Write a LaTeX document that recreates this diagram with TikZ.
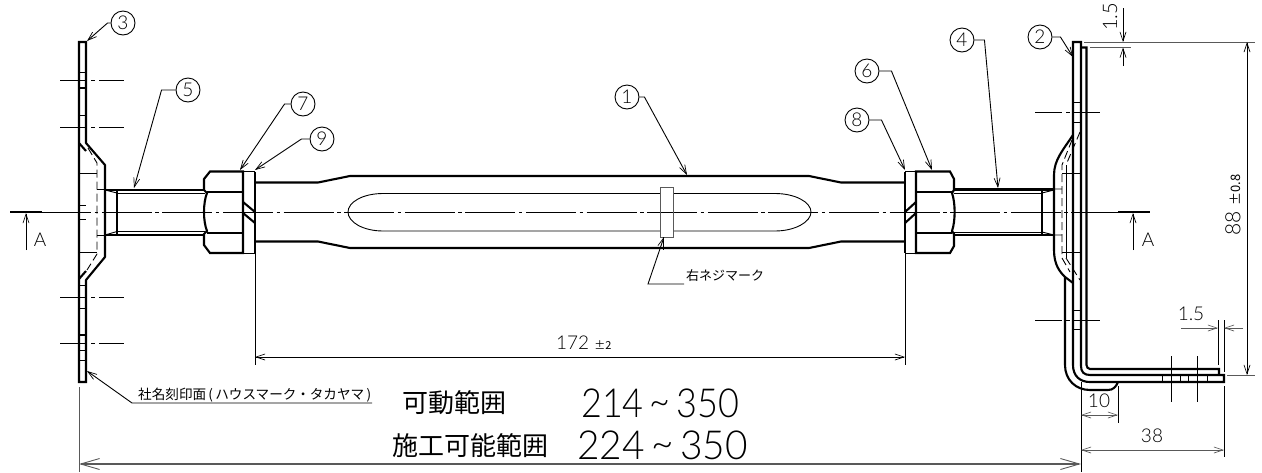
\documentclass[tikz,border=0pt]{standalone}
\usepackage{fontspec}
\setmainfont{Noto Sans CJK JP}
\newfontfamily\numfont{Lato Light}
\usetikzlibrary{arrows.meta}
\tikzset{
  >={Straight Barb[length=9pt,width=6pt,line width=.7pt]},
  thickline/.style={line width=2.1pt,line join=miter},
  thinline/.style={line width=.9pt},
  dashline/.style={line width=.9pt,dash pattern=on 8pt off 4pt},
  centerline/.style={line width=.9pt,dash pattern=on 50pt off 3.5pt on 3.5pt off 3.6pt,dash phase=.8pt},
  shortcenter/.style={line width=.9pt,dash pattern=on 27pt off 4pt on 4pt off 4pt},
  greyline/.style={line width=.9pt,color=black!65},
  balloon/.style={draw,circle,line width=.9pt,minimum size=24pt,inner sep=0pt,font=\numfont\fontsize{19}{19}\selectfont},
  label/.style={inner sep=0pt,font=\fontsize{13.6}{14}\selectfont},
  dimtext/.style={inner sep=0pt,font=\numfont\fontsize{19}{19}\selectfont},
  bigtext/.style={inner sep=0pt,font=\fontsize{26}{26}\selectfont},
  bignum/.style={inner sep=0pt,transform shape,font=\numfont\fontsize{40}{40}\selectfont}
}
\begin{document}
\begin{tikzpicture}[x=1pt,y=-1pt]
  \useasboundingbox (0,0) rectangle (1262,472);
  % center lines
  \draw[centerline] (42,212) -- (1118,212);
  \draw[shortcenter] (60,80) -- (124,80);
  \draw[shortcenter] (60,127) -- (124,127);
  \draw[shortcenter] (60,297) -- (124,297);
  \draw[shortcenter] (60,343) -- (124,343);
  \draw[shortcenter] (1035,112) -- (1100,112);
  \draw[shortcenter] (1035,320) -- (1100,320);
  \draw[thinline] (1171,356) -- (1171,402);
  \draw[thinline] (1197,356) -- (1197,402);
  % section marks
  \draw[thickline] (10,212) -- (42,212);
  \draw[thickline] (1118,212) -- (1150,212);
  \draw[thinline,->] (26,250) -- (26,213);
  \draw[thinline,->] (1133,250) -- (1133,213);
  \node[dimtext] (markl) at (40,240) {A};
  \node[dimtext] (markr) at (1148,240) {A};
  % left plate
  \draw[thickline] (79,42) -- (86,42) -- (86,143) -- (105,165) -- (105,257) -- (86,280) -- (86,382) -- (79,382) -- cycle;
  \draw[thickline] (79,88) -- (86,88);
  \draw[thickline] (79,335) -- (86,335);
  \draw[thinline] (79,72) -- (86,72) (79,115) -- (86,115) (79,173) -- (86,173) (79,205) -- (86,205) (79,219) -- (86,219)
    (79,252) -- (86,252) (79,285) -- (86,285) (79,308) -- (86,308) (79,350) -- (86,350) (79,360) -- (86,360);
  \draw[thickline] (79,143) -- (86,151) (79,279) -- (86,271);
  \draw[dashline] (88,148) -- (97,163) -- (97,254) -- (87,270);
  \draw[thinline] (86,173) -- (97,173) (86,252) -- (97,252) (97,189) -- (105,189) (97,235) -- (105,235);
  % left bolt
  \draw[thickline] (105,190) -- (205,190);
  \draw[thickline] (105,235) -- (205,235);
  \draw[thinline] (117,193) -- (205,193) (117,231.5) -- (205,231.5);
  \draw[thinline] (105,190) -- (117,193) (105,235) -- (117,231.5);
  \draw[thickline] (117,190) -- (117,235);
  % left nut and washer
  \draw[thickline] (204,179) -- (210,171.5) -- (243,171.5) -- (243,253) -- (210,253) -- (204,245) -- (204,234) -- (207,231)
    .. controls (203,221) and (203,203) .. (207,193) -- (204,190) -- cycle;
  \draw[thickline] (207,192) -- (243,192);
  \draw[thickline] (207,233) -- (243,233);
  \draw[thickline] (243,202) -- (255,212) (243,213) -- (255,223);
  \draw[thickline] (255,171.5) -- (255,253);
  \draw[thinline] (243,171.5) -- (255,171.5) (243,253) -- (255,253);
  % rod
  \draw[thickline] (255,182.5) -- (318,182.5) -- (350,176) -- (809,176) -- (841,182.5) -- (905,182.5);
  \draw[thickline] (255,241.5) -- (318,241.5) -- (350,248) -- (809,248) -- (841,241.5) -- (905,241.5);
  \draw[thinline] (383,193.5) -- (660,193.5) (673,193.5) -- (775,193.5) .. controls (795,193.5) and (811,202) .. (811,212)
    .. controls (811,222) and (795,231) .. (775,231) -- (673,231) (660,231) -- (383,231)
    .. controls (363,231) and (348,222) .. (348,212) .. controls (348,202) and (363,193.5) .. (383,193.5);
  \draw[greyline] (660,187) rectangle (673,237);
  % right nut and washer
  \draw[thickline] (954,179) -- (950,171.5) -- (916,171.5) -- (916,253) -- (950,253) -- (954,246) -- (954,234) -- (952,231)
    .. controls (955.5,221) and (955.5,203) .. (952,193) -- (954,190) -- cycle;
  \draw[thickline] (952,192) -- (916,192);
  \draw[thickline] (952,233) -- (916,233);
  \draw[thickline] (905,212) -- (916,202) (905,223) -- (916,213);
  \draw[thickline] (905,171.5) -- (905,253);
  \draw[thinline] (905,171.5) -- (916,171.5) (905,253) -- (916,253);
  % right bolt
  \draw[thickline] (954,189.5) -- (1054,189.5);
  \draw[thickline] (954,235) -- (1054,235);
  \draw[thinline] (954,193) -- (1042,193) (954,232) -- (1042,232);
  \draw[thinline] (1042,193) -- (1054,190) (1042,232) -- (1054,235) (1054,189) -- (1062,189) (1054,235) -- (1062,235);
  \draw[thickline] (1042,189.5) -- (1042,235);
  % right bracket
  \draw[thickline] (1073,135) .. controls (1063,150) and (1054,160) .. (1054,175) -- (1054,250)
    .. controls (1054,265) and (1060,272) .. (1065,277) -- (1073,283);
  \draw[thickline] (1073,365) -- (1073,42) -- (1081,42) -- (1081,366) .. controls (1081,372) and (1084,375) .. (1090,375) -- (1224,375) -- (1224,382) -- (1090,382)
    .. controls (1080,382) and (1073,376) .. (1073,365);
  \draw[thickline] (1081,47.5) -- (1086.5,47.5) -- (1086.5,365) .. controls (1086.5,367) and (1088,369) .. (1090,369) -- (1219,369) -- (1219,375);
  \draw[thickline] (1065,277) -- (1065,365) .. controls (1065,380) and (1076,390) .. (1090,390) -- (1108,390) .. controls (1113,390) and (1116,387) .. (1118,382);
  \draw[thinline] (1073,102) -- (1081,102) (1073,122) -- (1081,122) (1073,252) -- (1081,252) (1073,310) -- (1081,310) (1073,329) -- (1081,329);
  \draw[thinline] (1162,375) -- (1162,382) (1180,375) -- (1180,382) (1188,375) -- (1188,382) (1207,375) -- (1207,382);
  \draw[dashline] (1072,140) -- (1062,165) -- (1062,258) -- (1070,272);
  \draw[dashline] (1080,132) -- (1066,165) (1066,258) -- (1080,280);
  \draw[thinline] (1062,173) -- (1081,173) (1062,252) -- (1073,252) (1066,165) -- (1066,258);
  % dimensions
  \draw[thinline] (255,253) -- (255,365);
  \draw[thinline] (905,253) -- (905,365);
  \draw[thinline,<->] (255,357) -- (905,357);
  \node[dimtext,anchor=west] (len) at (556,343) {172 {\rmfamily\fontsize{11}{11}\selectfont ±2}};
  \draw[greyline] (79,387) -- (79,472);
  \draw[thinline] (1081,382) -- (1081,472);
  \draw[greyline,line width=1.6pt,{Straight Barb[length=19pt,width=11pt,line width=.9pt]}-{Straight Barb[length=19pt,width=11pt,line width=.9pt]}] (79,464) -- (1081,464);
  \draw[thinline] (1118,386) -- (1118,423);
  \draw[greyline,<->] (1081,415) -- (1118,415);
  \node[dimtext] (tenmm) at (1099,401) {10};
  \draw[thinline] (1224,386) -- (1224,457);
  \draw[greyline,<->] (1081,450) -- (1224,450);
  \node[dimtext] (baselen) at (1152,436) {38};
  \draw[thinline] (1218,320) -- (1218,365) (1224,320) -- (1224,372);
  \draw[greyline,->] (1181,328) -- (1218,328);
  \draw[greyline,->] (1243,328) -- (1224,328);
  \node[dimtext] (baset) at (1191,314) {1.5};
  \draw[greyline] (1084,42) -- (1255,42) (1090,47.5) -- (1131,47.5) (1227,375) -- (1255,375);
  \draw[thinline,->] (1123,8) -- (1123,42);
  \draw[thinline,->] (1123,66) -- (1123,47.5);
  \node[dimtext,rotate=90,font=\numfont\fontsize{20}{20}\selectfont] (platet) at (1110,17) {1.5};
  \draw[thinline,<->] (1247,42) -- (1247,375);
  \node[dimtext,rotate=90,font=\numfont\fontsize{21}{21}\selectfont] (height) at (1233,205) {88 {\rmfamily\fontsize{13}{13}\selectfont ±0.8}};
  % balloons
  \node[balloon] (b1) at (627,97) {1};
  \node[balloon] (b2) at (1040,37) {2};
  \node[balloon] (b3) at (123,23) {3};
  \node[balloon] (b4) at (962,40) {4};
  \node[balloon] (b5) at (188,90) {5};
  \node[balloon] (b6) at (867,71) {6};
  \node[balloon] (b7) at (303,104) {7};
  \node[balloon] (b8) at (857,120) {8};
  \node[balloon] (b9) at (322,139) {9};
  \coordinate (t1) at (687,175);
  \coordinate (t2) at (1073,57);
  \coordinate (t3) at (87,41);
  \coordinate (t4) at (998,188);
  \coordinate (t5) at (134,188);
  \coordinate (t6) at (932,170);
  \coordinate (t7) at (240,170);
  \coordinate (t8) at (905,170);
  \coordinate (t9) at (255,170);
  \draw[thinline,->] (b1.east) -- ++(5,0) -- (t1);
  \draw[thinline,->] (b2.east) -- ++(8,0) -- (t2);
  \draw[thinline,->] (b3.west) -- ++(-3,0) -- (t3);
  \draw[thinline,->] (b4.east) -- ++(10,0) -- (t4);
  \draw[thinline,->] (b5.west) -- ++(-14,0) -- (t5);
  \draw[thinline,->] (b6.east) -- ++(12,0) -- (t6);
  \draw[thinline,->] (b7.west) -- ++(-6,0) -- (t7);
  \draw[thinline,->] (b8.east) -- ++(12,0) -- (t8);
  \draw[thinline,->] (b9.west) -- ++(-8,0) -- (t9);
  % notes
  \node[label,anchor=west,font=\fontsize{13}{13}\selectfont] (mark) at (686,276) {右ネジマーク};
  \coordinate (markend) at (684,284);
  \coordinate (marktip) at (664,237);
  \draw[thinline,->] (markend) -- (648,284) -- (marktip);
  \draw[thinline] (663.5,237) -- (663.5,250);
  \node[label,anchor=west] (stamp) at (138,395) {社名刻印面\,(\,ハウスマーク・タカヤマ\,)};
  \coordinate (stampend) at (372,403);
  \coordinate (stamptip) at (87,371);
  \draw[thinline,->] (stampend) -- (132,403) -- (stamptip);
  % ranges
  \node[bigtext,anchor=west] (rangea) at (402,403) {可動範囲};
  \node[bignum,anchor=west,xscale=.9] (numa) at (581,403) {214\,\raisebox{2pt}{\textasciitilde}\,350};
  \node[bigtext,anchor=west] (rangeb) at (392,446) {施工可能範囲};
  \node[bignum,anchor=west,xscale=.97] (numb) at (577,445) {224\,\raisebox{2pt}{\textasciitilde}\,350};
\end{tikzpicture}
\end{document}
